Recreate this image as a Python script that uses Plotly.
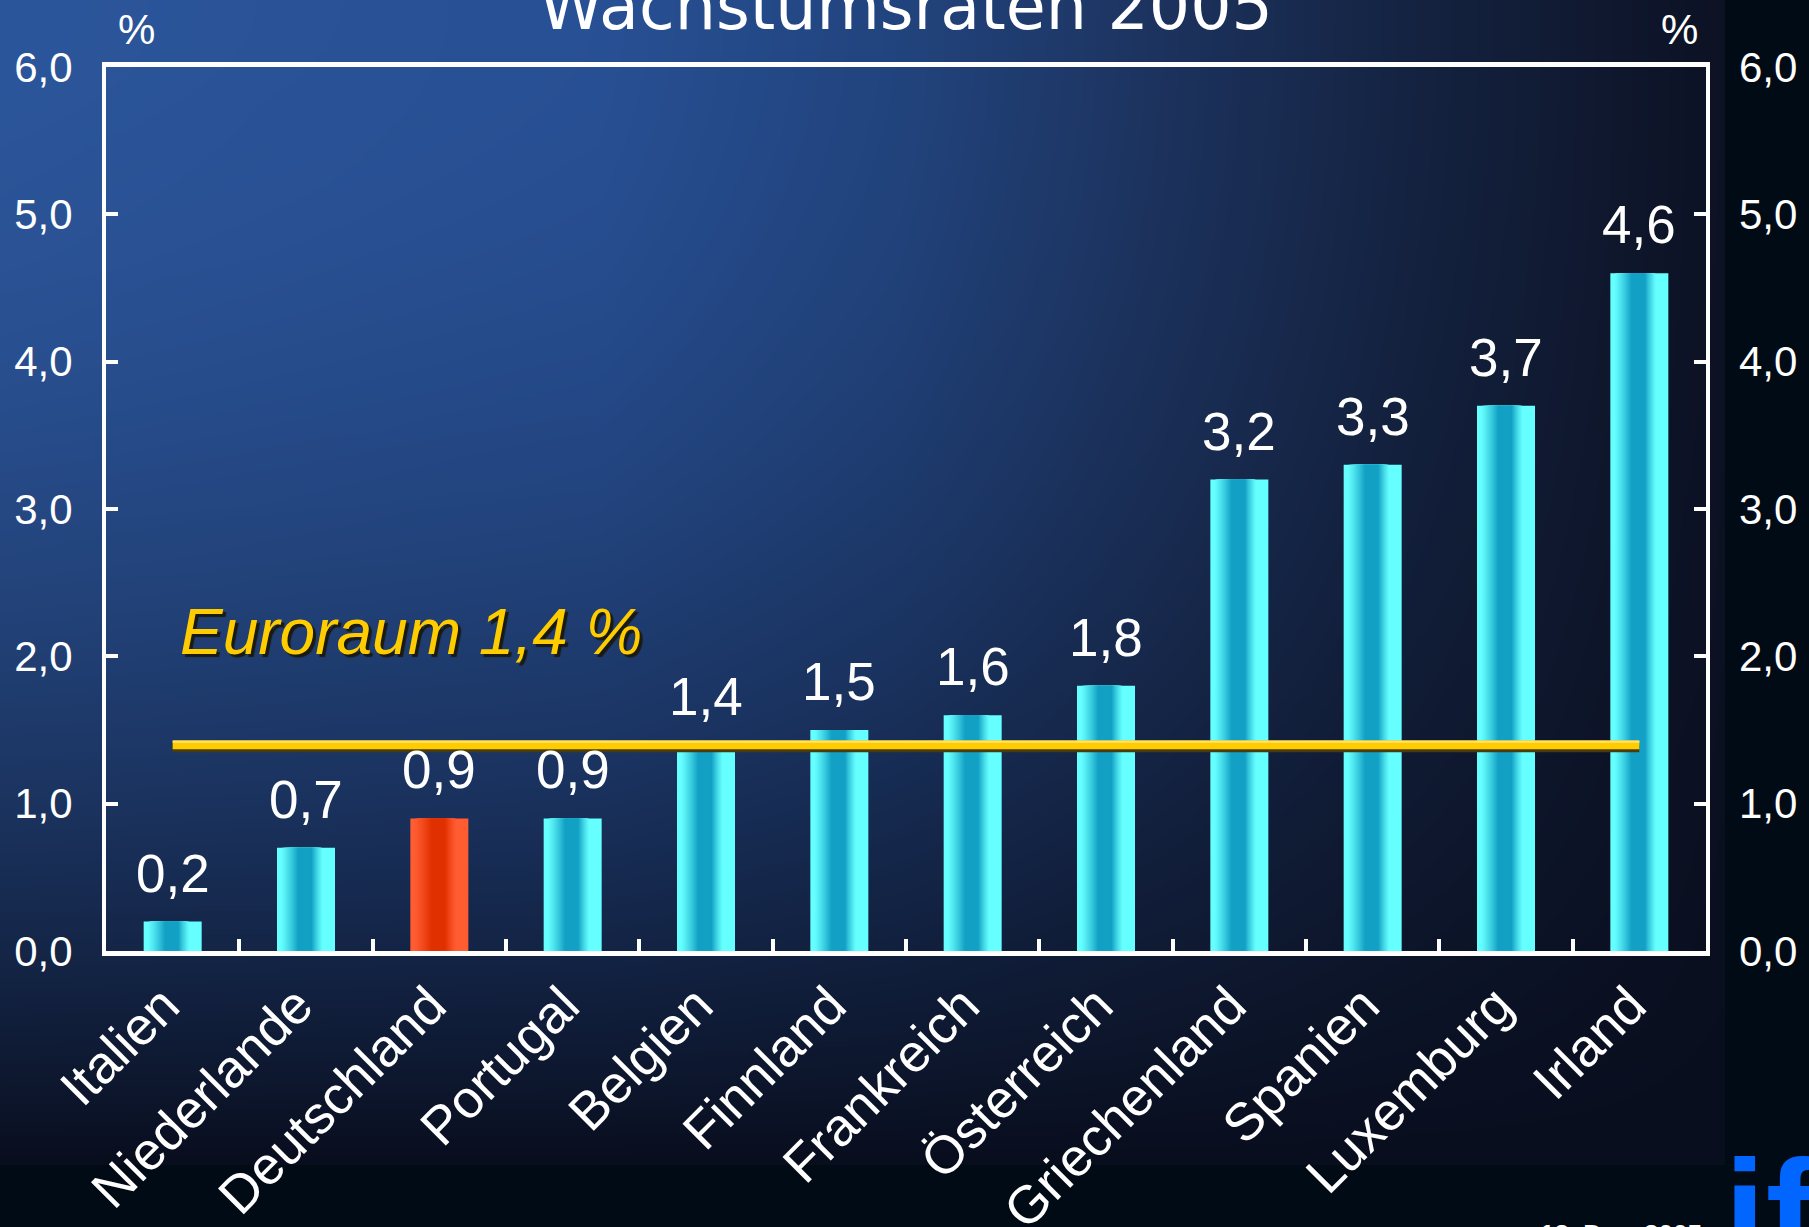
import base64
import struct
import zlib

import numpy as np
import plotly.graph_objects as go

# ---------------- data ----------------
countries = ["Italien", "Niederlande", "Deutschland", "Portugal", "Belgien", "Finnland",
             "Frankreich", "Österreich", "Griechenland", "Spanien", "Luxemburg", "Irland"]
growth = [0.2, 0.7, 0.9, 0.9, 1.4, 1.5, 1.6, 1.8, 3.2, 3.3, 3.7, 4.6]
highlight = "Deutschland"
euro_area = 1.4
title_text = "Wachstumsraten 2005"
euro_label = "Euroraum 1,4 %"
date_text = "12. Dez. 2005"
y_ticks = [0, 1, 2, 3, 4, 5, 6]

# ---------------- geometry (pixels) ----------------
W, H = 1809, 1227
PL, PR, PT, PB = 106, 1706, 67, 951
GRAD_W, GRAD_H = 1725, 1165
PX_PER_UNIT = (PB - PT) / 6.0


# ---------------- background gradient as PNG ----------------
def make_png(arr):
    h, w, _ = arr.shape
    raw = b"".join(b"\x00" + arr[i].tobytes() for i in range(h))

    def chunk(tag, data):
        c = struct.pack(">I", len(data)) + tag + data
        return c + struct.pack(">I", zlib.crc32(tag + data) & 0xFFFFFFFF)

    png = b"\x89PNG\r\n\x1a\n"
    png += chunk(b"IHDR", struct.pack(">IIBBBBB", w, h, 8, 2, 0, 0, 0))
    png += chunk(b"IDAT", zlib.compress(raw, 9))
    png += chunk(b"IEND", b"")
    return "data:image/png;base64," + base64.b64encode(png).decode()


sc = 3
gw, gh = GRAD_W // sc, GRAD_H // sc
xs = np.linspace(0, GRAD_W, gw)
ys = np.linspace(0, GRAD_H, gh)
hx = [0, 600, 900, 1150, 1400, 1725]
hc = np.array([[44, 86, 155], [40, 80, 148], [34, 68, 126], [29, 52, 96], [21, 36, 67], [13, 18, 36]], float)
Hrow = np.stack([np.interp(xs, hx, hc[:, k]) for k in range(3)], axis=1)
D = np.array([9, 14, 30], float)
v = (ys / GRAD_H) ** 2.0
img = Hrow[None, :, :] * (1 - v[:, None, None]) + D[None, None, :] * v[:, None, None]
img = np.clip(img, 0, 255).astype(np.uint8)
bg_src = make_png(img)

fig = go.Figure()

# ---------------- bars with horizontal gradient (layered) ----------------
BW = 0.435
n_lv = 16
cy_light, cy_dark = np.array([102, 255, 255]), np.array([18, 160, 196])
rd_light, rd_dark = np.array([255, 92, 50]), np.array([224, 48, 0])
for k in range(n_lv):
    lv = k / (n_lv - 1)
    if k == 0:
        a, b = 0.0, 1.0
    else:
        a, b = 0.05 + 0.31 * lv ** 0.8, 0.80 - 0.20 * lv ** 0.8
    cc = cy_light + (cy_dark - cy_light) * lv
    rc = rd_light + (rd_dark - rd_light) * lv
    ccs = "rgb(%d,%d,%d)" % tuple(cc.round())
    rcs = "rgb(%d,%d,%d)" % tuple(rc.round())
    colors = [rcs if c == highlight else ccs for c in countries]
    fig.add_trace(go.Bar(
        x=countries, y=growth,
        width=[(b - a) * BW] * len(countries),
        offset=[(a - 0.5) * BW] * len(countries),
        marker=dict(color=colors, line=dict(width=0)),
        hoverinfo="skip", showlegend=False,
        xaxis="x", yaxis="y",
    ))

# ---------------- euro area line (on overlay axis, above bars) ----------------
sh = 4 / PX_PER_UNIT
fig.add_trace(go.Scatter(x=[countries[0], countries[-1]], y=[euro_area - sh, euro_area - sh],
                         mode="lines", line=dict(color="#4a3c0a", width=7),
                         hoverinfo="skip", showlegend=False, xaxis="x", yaxis="y2"))
fig.add_trace(go.Scatter(x=[countries[0], countries[-1]], y=[euro_area, euro_area],
                         mode="lines", line=dict(color="#ffcc00", width=9),
                         hoverinfo="skip", showlegend=False, xaxis="x", yaxis="y2"))
hl = 3 / PX_PER_UNIT
fig.add_trace(go.Scatter(x=[countries[0], countries[-1]], y=[euro_area + hl, euro_area + hl],
                         mode="lines", line=dict(color="#ffe27a", width=2),
                         hoverinfo="skip", showlegend=False, xaxis="x", yaxis="y2"))

FONT = "Liberation Sans, Arial, sans-serif"
annotations = []
for c, val in zip(countries, growth):
    annotations.append(dict(
        x=c, y=val, xref="x", yref="y", text=f"{val:.1f}".replace(".", ","),
        showarrow=False, yanchor="bottom", xanchor="center", yshift=17,
        font=dict(family=FONT, size=53, color="white"),
    ))

# euro label
annotations.append(dict(
    x=178 / W, y=1 - 632 / H, xref="paper", yref="paper", text=f"<i>{euro_label}</i>",
    showarrow=False, xanchor="left", yanchor="middle",
    font=dict(family=FONT, size=64, color="#ffcc00", shadow="3px 3px 1px #1a1a10"),
))
# title (partially cut at top, as in the original slide)
annotations.append(dict(
    x=906 / W, y=1 - 46 / H, xref="paper", yref="paper", text=title_text,
    showarrow=False, xanchor="center", yanchor="bottom",
    font=dict(family="DejaVu Sans, Verdana, sans-serif", size=65, color="white"),
))
# percent signs
for px in (136, 1679):
    annotations.append(dict(
        x=px / W, y=1 - 29 / H, xref="paper", yref="paper", text="%",
        showarrow=False, xanchor="center", yanchor="middle",
        font=dict(family=FONT, size=42, color="white"),
    ))
# ifo logo (cut off at the bottom-right)
annotations.append(dict(
    x=1722 / W, y=1 - 1127 / H, xref="paper", yref="paper", text="<b>ifo</b>",
    showarrow=False, xanchor="left", yanchor="top",
    font=dict(family=FONT, size=150, color="#0066ff"),
))
# date (cut off)
annotations.append(dict(
    x=1621 / W, y=1 - 1217 / H, xref="paper", yref="paper", text=f"<b>{date_text}</b>",
    showarrow=False, xanchor="center", yanchor="top",
    font=dict(family=FONT, size=26, color="white"),
))

axis_font = dict(family=FONT, size=42, color="white")
fig.update_layout(
    template="none",
    width=W, height=H, autosize=False,
    margin=dict(l=0, r=0, t=0, b=0, pad=0),
    paper_bgcolor="#010b16",
    plot_bgcolor="rgba(0,0,0,0)",
    barmode="overlay",
    separators=",.",
    showlegend=False,
    annotations=annotations,
    images=[dict(source=bg_src, xref="paper", yref="paper", x=0, y=1,
                 sizex=GRAD_W / W, sizey=GRAD_H / H, xanchor="left", yanchor="top",
                 sizing="stretch", layer="below")],
    xaxis=dict(
        domain=[PL / W, PR / W], type="category", range=[-0.5, len(countries) - 0.5],
        showline=True, linecolor="white", linewidth=5, mirror=True, automargin=False,
        ticks="inside", tickson="boundaries", ticklen=12, tickwidth=4, tickcolor="white",
        tickangle=-45, tickfont=dict(family=FONT, size=53, color="white"),
        ticklabelstandoff=-3, ticklabelshift=-9,
        showgrid=False, zeroline=False, fixedrange=True,
    ),
    yaxis=dict(
        domain=[1 - PB / H, 1 - PT / H], range=[0, 6], tickvals=y_ticks, tickformat=".1f",
        showline=True, linecolor="white", linewidth=4, mirror=True, automargin=False,
        ticks="inside", ticklen=12, tickwidth=4, tickcolor="white",
        tickfont=axis_font, ticklabelstandoff=21,
        showgrid=False, zeroline=False, fixedrange=True,
    ),
    yaxis2=dict(
        overlaying="y", side="right", anchor="x", range=[0, 6], tickvals=y_ticks, tickformat=".1f",
        showline=False, ticks="inside", ticklen=12, tickwidth=4, tickcolor="white",
        tickfont=axis_font, ticklabelstandoff=32, automargin=False,
        showgrid=False, zeroline=False, fixedrange=True,
    ),
)

fig.write_html("out.html", config={"displayModeBar": False},
               post_script="document.body.style.margin='0';document.body.style.overflow='hidden';")
